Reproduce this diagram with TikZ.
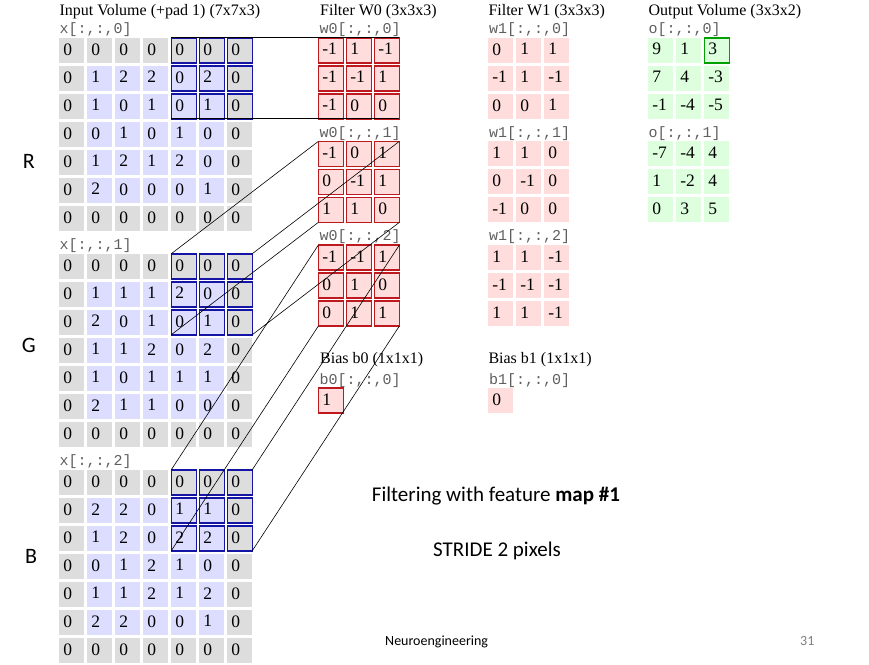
\documentclass[tikz,border=0pt]{standalone}
\usepackage{fontspec}
\setmainfont{Liberation Serif}
\setmonofont{Liberation Mono}
\newfontfamily\slidefont{Carlito}
\usepackage{xcolor}
\usetikzlibrary{positioning}

\definecolor{padgray}{RGB}{221,221,221}
\definecolor{inblue}{RGB}{221,221,255}
\definecolor{hlblue}{RGB}{20,20,165}
\definecolor{wpink}{RGB}{255,221,221}
\definecolor{wred}{RGB}{190,25,30}
\definecolor{ogreen}{RGB}{221,255,221}
\definecolor{oline}{RGB}{0,160,0}
\definecolor{monogray}{RGB}{95,95,95}

% input slice: name, x, y, rows (padding grey, inside lavender)
\newcommand{\drawinput}[4]{%
  \foreach \row [count=\r from 0] in {#4} {
    \foreach \v [count=\c from 0] in \row {
      \pgfmathtruncatemacro{\pad}{(\r==0)||(\r==6)||(\c==0)||(\c==6)}
      \ifnum\pad=1 \def\cellcol{padgray}\else\def\cellcol{inblue}\fi
      \node[cell, fill=\cellcol] (#1-\r-\c) at ({#2+28*\c},{#3+28*\r}) {\v};
    }
  }
}
% 3x3 slice: name, x, y, style, rows
\newcommand{\drawsmall}[5]{%
  \foreach \row [count=\r from 0] in {#5} {
    \foreach \v [count=\c from 0] in \row {
      \node[#4] (#1-\r-\c) at ({#2+28*\c},{#3+28*\r}) {\v};
    }
  }
}

\begin{document}
\begin{tikzpicture}[x=1pt, y=-1pt,
    cell/.style={minimum width=25pt, minimum height=25pt, inner sep=0pt, outer sep=0pt,
      anchor=north west, text width=17pt, align=left, text depth=2pt,
      font=\fontsize{17.5}{19}\selectfont},
    wcell/.style={cell, fill=wpink, draw=wred, line width=1.6pt},
    wlight/.style={cell, fill=wpink},
    ocell/.style={cell, fill=ogreen},
    hlbox/.style={draw=hlblue, line width=1.6pt},
    obox/.style={draw=oline, line width=1.6pt},
    proj/.style={draw=black, line width=0.6pt},
    head/.style={font=\fontsize{16}{18}\selectfont, anchor=base west, inner sep=0pt},
    mono/.style={font=\ttfamily\fontsize{15}{16}\selectfont, text=monogray, anchor=base west, inner sep=0pt},
    slide/.style={font=\slidefont\fontsize{21}{24}\selectfont, anchor=base west, inner sep=0pt}]
  \useasboundingbox (0,0) rectangle (869,664);

  % headings
  \node[head] (inhead) at (59.3,15) {Input Volume (+pad 1) (7x7x3)};
  \node[head] (wahead) at (320,15) {Filter W0 (3x3x3)};
  \node[head] (wbhead) at (488.3,15) {Filter W1 (3x3x3)};
  \node[head] (outhead) at (648.3,15) {Output Volume (3x3x2)};

  % input volume
  \node[mono] (in0lab) at (59.3,33.5) {x[:,:,0]};
  \drawinput{in0}{59.3}{37.7}{{0,0,0,0,0,0,0},{0,1,2,2,0,2,0},{0,1,0,1,0,1,0},{0,0,1,0,1,0,0},{0,1,2,1,2,0,0},{0,2,0,0,0,1,0},{0,0,0,0,0,0,0}}
  \node[mono] (in1lab) at (59.3,249.5) {x[:,:,1]};
  \drawinput{in1}{59.3}{253.7}{{0,0,0,0,0,0,0},{0,1,1,1,2,0,0},{0,2,0,1,0,1,0},{0,1,1,2,0,2,0},{0,1,0,1,1,1,0},{0,2,1,1,0,0,0},{0,0,0,0,0,0,0}}
  \node[mono] (in2lab) at (59.3,465.5) {x[:,:,2]};
  \drawinput{in2}{59.3}{469.7}{{0,0,0,0,0,0,0},{0,2,2,0,1,1,0},{0,1,2,0,2,2,0},{0,0,1,2,1,0,0},{0,1,1,2,1,2,0},{0,2,2,0,0,1,0},{0,0,0,0,0,0,0}}

  % receptive field
  \foreach \k in {0,1,2}
    \foreach \r in {0,1,2}
      \foreach \c in {4,5,6}
        \draw[hlbox] (in\k-\r-\c.north west) rectangle (in\k-\r-\c.south east);

  % filter W0
  \node[mono] (wa0lab) at (319.3,33.5) {w0[:,:,0]};
  \drawsmall{wa0}{318.3}{37.7}{wcell}{{-1,1,-1},{-1,-1,1},{-1,0,0}}
  \node[mono] (wa1lab) at (319.3,137.2) {w0[:,:,1]};
  \drawsmall{wa1}{318.3}{141.4}{wcell}{{-1,0,1},{0,-1,1},{1,1,0}}
  \node[mono] (wa2lab) at (319.3,240.9) {w0[:,:,2]};
  \drawsmall{wa2}{318.3}{245.1}{wcell}{{-1,-1,1},{0,1,0},{0,1,1}}
  \node[head] (bahead) at (320,363.5) {Bias b0 (1x1x1)};
  \node[mono] (balab) at (319.3,384) {b0[:,:,0]};
  \node[wcell] (biasa) at (318.3,388) {1};

  % filter W1
  \node[mono] (wb0lab) at (489,33.5) {w1[:,:,0]};
  \drawsmall{wb0}{488.3}{37.7}{wlight}{{0,1,1},{-1,1,-1},{0,0,1}}
  \node[mono] (wb1lab) at (489,137.2) {w1[:,:,1]};
  \drawsmall{wb1}{488.3}{141.4}{wlight}{{1,1,0},{0,-1,0},{-1,0,0}}
  \node[mono] (wb2lab) at (489,240.9) {w1[:,:,2]};
  \drawsmall{wb2}{488.3}{245.1}{wlight}{{1,1,-1},{-1,-1,-1},{1,1,-1}}
  \node[head] (bbhead) at (488.3,363.5) {Bias b1 (1x1x1)};
  \node[mono] (bblab) at (489,384) {b1[:,:,0]};
  \node[wlight] (biasb) at (488.3,388) {0};

  % output volume
  \node[mono] (out0lab) at (648.3,33.5) {o[:,:,0]};
  \drawsmall{out0}{648.3}{37.7}{ocell}{{9,1,3},{7,4,-3},{-1,-4,-5}}
  \node[mono] (out1lab) at (648.3,137.2) {o[:,:,1]};
  \drawsmall{out1}{648.3}{141.4}{ocell}{{-7,-4,4},{1,-2,4},{0,3,5}}
  \draw[obox] (out0-0-2.north west) rectangle (out0-0-2.south east);

  % projection of the field onto W0
  \foreach \k in {0,1,2} {
    \draw[proj] (in\k-0-4.north west) -- (wa\k-0-0.north west);
    \draw[proj] (in\k-0-6.north east) -- (wa\k-0-2.north east);
    \draw[proj] (in\k-2-4.south west) -- (wa\k-2-0.south west);
    \draw[proj] (in\k-2-6.south east) -- (wa\k-2-2.south east);
  }

  % slide texts
  \node[slide, font=\slidefont\fontsize{22}{24}\selectfont] (rlab) at (22.7,168.3) {R};
  \node[slide, font=\slidefont\fontsize{22}{24}\selectfont] (glab) at (21.7,352.5) {G};
  \node[slide, font=\slidefont\fontsize{22}{24}\selectfont] (blab) at (25,563) {B};
  \node[slide] (filtering) at (371.7,501.7) {Filtering with feature \textbf{map \#1}};
  \node[slide] (stride) at (433,556) {STRIDE 2 pixels};
  \node[slide, font=\slidefont\fontsize{14}{16}\selectfont] (footer) at (385,645.7) {Neuroengineering};
  \node[slide, font=\slidefont\fontsize{14}{16}\selectfont, text=gray] (pagenum) at (800,645.7) {31};
\end{tikzpicture}
\end{document}
